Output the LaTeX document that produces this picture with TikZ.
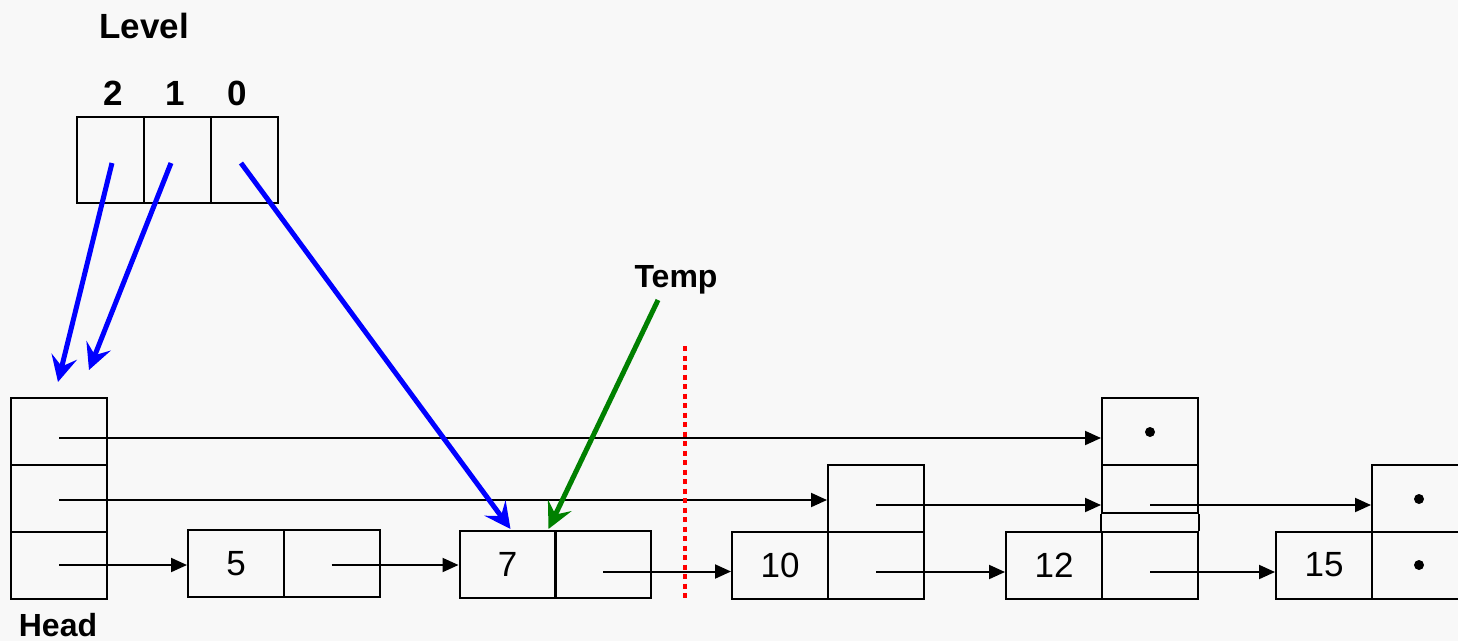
\documentclass[tikz,border=0pt]{standalone}
\usepackage{fontspec}
\setmainfont{Liberation Sans}
\usetikzlibrary{arrows.meta}
\definecolor{bg}{HTML}{F8F8F8}
\definecolor{pgreen}{HTML}{008000}
\begin{document}
\begin{tikzpicture}[x=1pt,y=-1pt,
  cell/.style={draw=black,line width=2pt,rectangle,inner sep=0pt,minimum width=96pt,minimum height=67pt,font=\fontsize{35}{40}\selectfont},
  lcell/.style={cell,minimum width=67pt,minimum height=86pt},
  lbl/.style={inner sep=0pt,font=\fontsize{35}{40}\selectfont\bfseries},
  ptr/.style={line width=2pt,-{Triangle[length=16pt,width=14pt]}},
  bluearr/.style={draw=blue,line width=5pt,-{Stealth[length=26pt,width=26pt,inset=10pt]}},
  greenarr/.style={draw=pgreen,line width=5pt,-{Stealth[length=26pt,width=26pt,inset=10pt]}},
  dotmark/.style={circle,fill=black,inner sep=0pt,minimum size=10pt}
]
\fill[bg] (0,0) rectangle (1458,641);
\useasboundingbox (0,0) rectangle (1458,641);

% labels
\node[lbl] (level) at (144,26) {Level};
\node[lbl] (d2) at (113,93) {2};
\node[lbl] (d1) at (175,93) {1};
\node[lbl] (d0) at (237,93) {0};
\node[lbl,font=\fontsize{32}{38}\selectfont\bfseries] (temp) at (676,280) {Temp};
\node[lbl,font=\fontsize{32}{38}\selectfont\bfseries] (head) at (58,625) {Head};

% level array
\node[lcell] (L2) at (110.5,160) {};
\node[lcell] (L1) at (177.5,160) {};
\node[lcell] (L0) at (244,160) {};

% head column
\node[cell] (H2) at (59,431.5) {};
\node[cell] (H1) at (59,498.5) {};
\node[cell] (H0) at (59,565) {};

% node 5
\node[cell] (n5) at (236,563.5) {5};
\node[cell] (n5p) at (331.5,563.5) {};
% node 7
\node[cell] (n7) at (507.5,564.5) {7};
\node[cell] (n7p) at (603,564.5) {};
% node 10
\node[cell] (n10) at (780,565) {10};
\node[cell] (n10p) at (876,565) {};
\node[cell] (n10u) at (876,498.5) {};
% node 12
\node[cell] (n12) at (1054,565) {12};
\node[cell] (n12p) at (1150,565) {};
\node[cell,minimum height=48pt] (n12m) at (1150,489) {};
\node[cell] (n12t) at (1150,431.5) {};
\draw[line width=2pt] (n12m.south west) -- (n12p.north west) (n12m.south east) -- (n12p.north east);
\node[dotmark] (dt12) at (1150,432) {};
% node 15
\node[cell] (n15) at (1324,565) {15};
\node[cell] (n15p) at (1420,565) {};
\node[cell] (n15u) at (1420,498.5) {};
\node[dotmark] (dt15a) at (1419,499) {};
\node[dotmark] (dt15b) at (1419,565) {};

% pointer start coordinates
\coordinate (sH2) at ([yshift=-6.5pt]H2.center);
\coordinate (sH1) at ([yshift=-1.5pt]H1.center);
\coordinate (sH0) at ([yshift=0pt]H0.center);
\coordinate (s5) at ([yshift=-1.5pt]n5p.center);
\coordinate (s7) at ([yshift=-7pt]n7p.center);
\coordinate (s10u) at ([yshift=-6.5pt]n10u.center);
\coordinate (s10) at ([yshift=-7pt]n10p.center);
\coordinate (s12m) at ([yshift=-16pt]n12m.center);
\coordinate (s12) at ([yshift=-7pt]n12p.center);

\draw[ptr] (sH2) -- (sH2 -| n12t.west);
\draw[ptr] (sH1) -- (sH1 -| n10u.west);
\draw[ptr] (sH0) -- (sH0 -| n5.west);
\draw[ptr] (s5) -- (s5 -| n7.west);
\draw[ptr] (s7) -- (s7 -| n10.west);
\draw[ptr] (s10u) -- (s10u -| n12m.west);
\draw[ptr] (s10) -- (s10 -| n12.west);
\draw[ptr] (s12m) -- (s12m -| n15u.west);
\draw[ptr] (s12) -- (s12 -| n15.west);

% red dotted line
\coordinate (r1) at (685,346);
\coordinate (r2) at (685,598);
\draw[red,line width=4.5pt,dash pattern=on 5pt off 4.5pt] (r1) -- (r2);

% blue arrows
\coordinate (b2s) at (112,163);
\coordinate (b2e) at (58,382);
\coordinate (b1s) at (171,163);
\coordinate (b1e) at (89,370);
\coordinate (b0s) at (241,163);
\draw[bluearr] (b2s) -- (b2e);
\draw[bluearr] (b1s) -- (b1e);
\draw[bluearr] (b0s) -- ([xshift=3pt,yshift=1pt]n7.north);

% green arrow
\coordinate (gs) at (658,300);
\draw[greenarr] (gs) -- ([xshift=-8pt,yshift=1pt]n7.north east);
\end{tikzpicture}
\end{document}
